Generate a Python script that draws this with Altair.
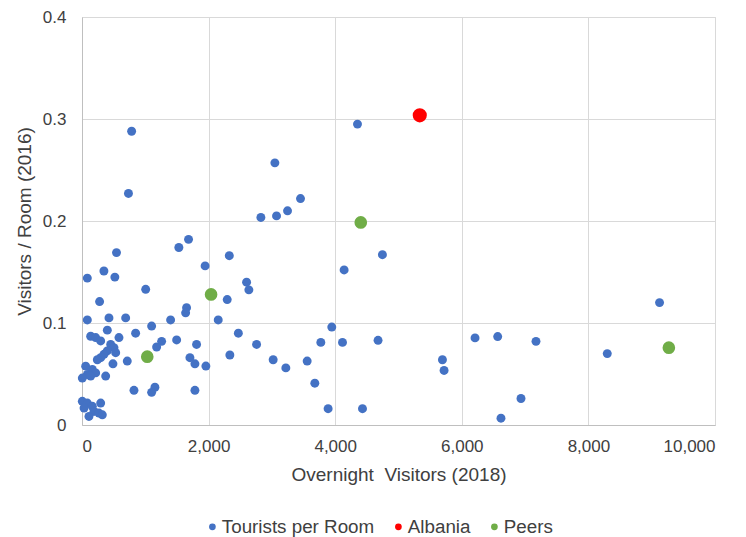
import altair as alt
import pandas as pd

# Tourists per Room (blue)
tour_x = [784, 734, 1683, 1530, 545, 2327, 1945, 346, 519, 84, 1006, 2294, 278, 2600, 2636,
          4352, 3047, 3452, 3247, 3073, 2826, 4746, 4141, 1652, 1637, 84, 426, 690, 1400, 2152,
          1100, 2470, 847, 400, 137, 216, 295, 584, 453, 505, 399, 532, 347, 295, 242, 489, 715,
          1258, 1179, 1495, 1810, 2336, 1705, 1784, 1957, 1152, 1100, 1784, 821, 58, 163, 216,
          84, 5, 137, 374, 5, 84, 32, 163, 295, 189, 268, 110, 321, 2758, 3020, 3220, 3557, 3678,
          3773, 3946, 4115, 4677, 3888, 4431, 5694, 5720, 6209, 6567, 7172, 6935, 6619, 8298, 9124]
tour_y = [0.288, 0.227, 0.182, 0.174, 0.169, 0.166, 0.156, 0.151, 0.145, 0.144, 0.133, 0.123, 0.121, 0.140, 0.1325,
          0.295, 0.257, 0.222, 0.210, 0.205, 0.2035, 0.167, 0.152, 0.115, 0.110, 0.103, 0.105, 0.105, 0.103, 0.103,
          0.097, 0.090, 0.090, 0.093, 0.087, 0.0857, 0.0824, 0.0857, 0.079, 0.0758, 0.0726, 0.0709, 0.0693, 0.066, 0.064, 0.060, 0.0627,
          0.082, 0.0765, 0.0834, 0.079, 0.0686, 0.066, 0.060, 0.0578, 0.037, 0.032, 0.034, 0.034, 0.0577, 0.0545, 0.0511,
          0.0495, 0.046, 0.048, 0.048, 0.0232, 0.0215, 0.0166, 0.0183, 0.0215, 0.0133, 0.0117, 0.0084, 0.010, 0.079, 0.064, 0.056, 0.0627, 0.041,
          0.081, 0.096, 0.081, 0.083, 0.016, 0.016, 0.064, 0.0535, 0.0854, 0.0867, 0.082, 0.026, 0.0067, 0.070, 0.120]

# Albania (red)
alb_x = [5336]
alb_y = [0.3036]

# Peers (green)
peer_x = [1031, 2039, 4404, 9271]
peer_y = [0.067, 0.128, 0.1986, 0.0758]

series_names = ["Tourists per Room", "Albania", "Peers"]
series_colors = ["#4472C4", "#FF0000", "#70AD47"]
series_sizes = [80, 200, 160]

x_ticks = [0, 2000, 4000, 6000, 8000, 10000]
y_ticks = [0, 0.1, 0.2, 0.3, 0.4]

rows = []
for (xs, ys), name, sz in zip([(tour_x, tour_y), (alb_x, alb_y), (peer_x, peer_y)],
                              series_names, series_sizes):
    for a, b in zip(xs, ys):
        rows.append({"x": a, "y": b, "series": name, "sz": sz, "ord": len(rows)})
df = pd.DataFrame(rows)

FONT = "Liberation Sans"
TXT = "#404040"

chart = alt.Chart(df).mark_circle(opacity=1).encode(
    x=alt.X("x:Q",
            scale=alt.Scale(domain=[0, 10000], nice=False),
            axis=alt.Axis(values=x_ticks, format=",.0f", title="Overnight\u00a0 Visitors (2018)",
                          labelPadding=13, titlePadding=11)),
    y=alt.Y("y:Q",
            scale=alt.Scale(domain=[0, 0.4], nice=False),
            axis=alt.Axis(values=y_ticks, format=".1~f", title="Visitors / Room (2016)",
                          labelPadding=16, titlePadding=8)),
    color=alt.Color("series:N",
                    scale=alt.Scale(domain=series_names, range=series_colors),
                    legend=alt.Legend(orient="none", legendX=121, legendY=500,
                                      direction="horizontal", title=None,
                                      symbolType="circle", symbolSize=45,
                                      labelFontSize=18.8, labelFont=FONT, labelColor=TXT,
                                      labelOffset=0, columnPadding=14, padding=0)),
    size=alt.Size("sz:Q", scale=None, legend=None),
    order=alt.Order("ord:Q"),
).properties(
    width=633, height=408,
    padding={"left": 7, "top": 0, "right": 5, "bottom": 0},
).configure_axis(
    grid=True, gridColor="#D9D9D9", gridWidth=1,
    domainColor="#BFBFBF", domainWidth=1,
    ticks=False, tickSize=0,
    labelFont=FONT, labelFontSize=17, labelColor=TXT,
    titleFont=FONT, titleFontSize=19, titleColor=TXT, titleFontWeight="normal",
).configure_view(stroke="#D9D9D9")

chart.save("out.html", embed_options={"renderer": "svg", "actions": False})
